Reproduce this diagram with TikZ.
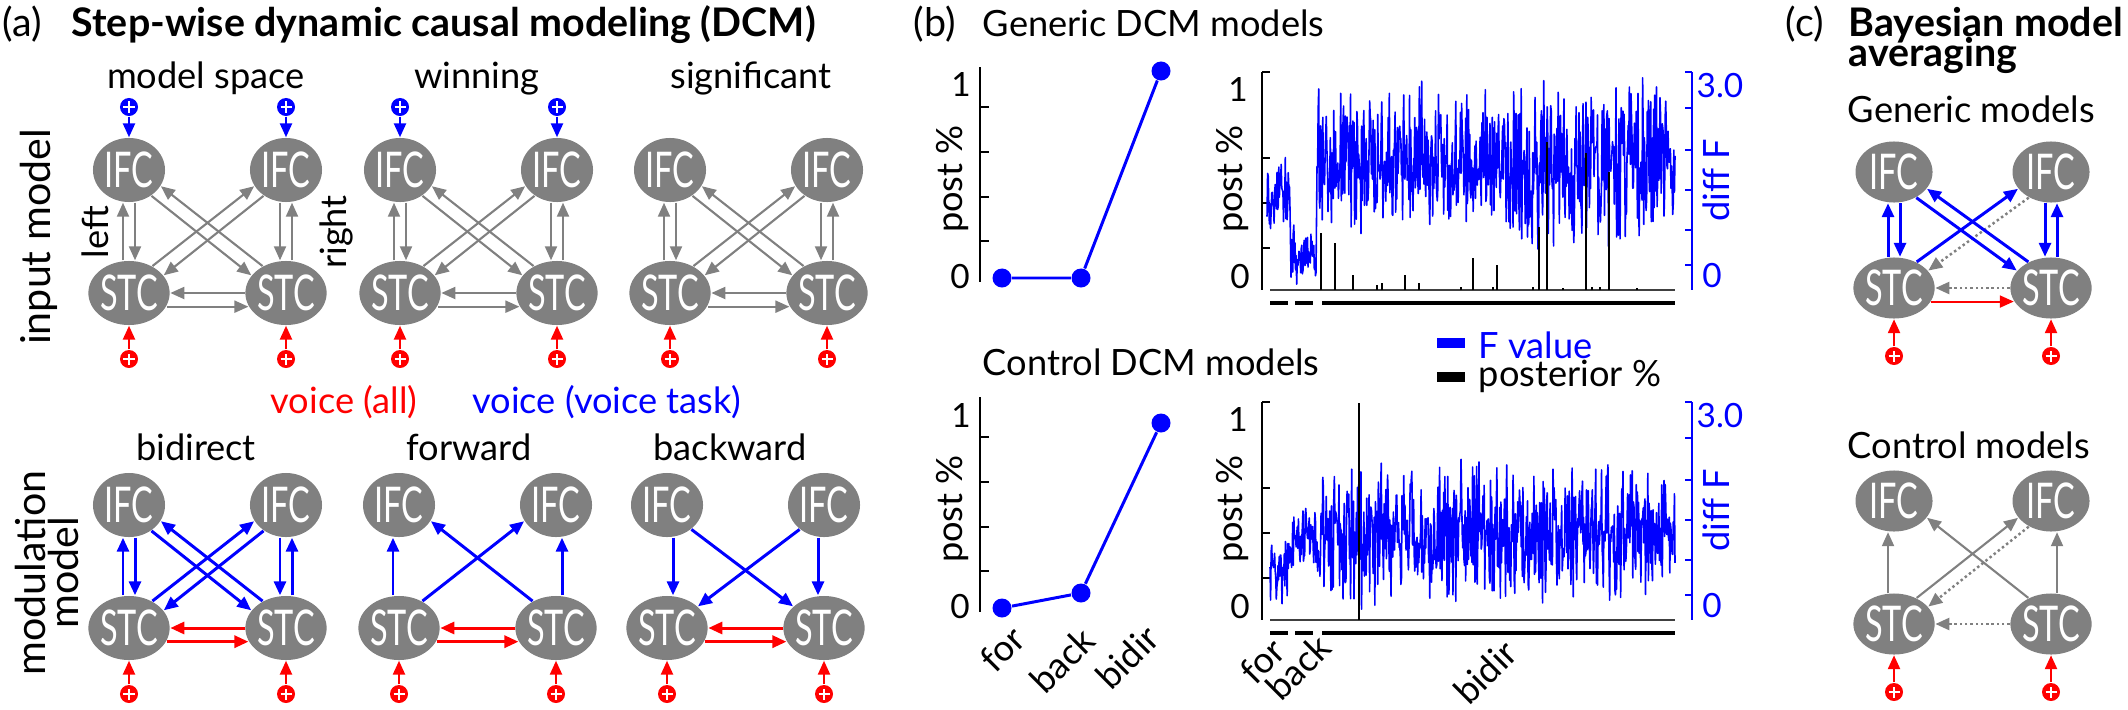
\documentclass[tikz,border=0pt]{standalone}
\usepackage{fontspec}
\setmainfont{Lato}
\usepackage{graphicx}
\usetikzlibrary{arrows.meta,shapes.geometric}
\definecolor{roigray}{RGB}{128,128,128}
\definecolor{arrgray}{RGB}{128,128,128}
\definecolor{vblue}{RGB}{0,0,255}
\definecolor{vred}{RGB}{255,0,0}
\newcommand{\roitext}[1]{\scalebox{0.66}[1]{#1}}
\tikzset{
  roi/.style={ellipse, fill=roigray, text=white, minimum width=0.72cm, minimum height=0.64cm, inner sep=0pt, font=\fontsize{14}{14}\selectfont},
  roiwide/.style={roi, minimum width=0.77cm, minimum height=0.61cm},
  lnk/.style={-{Triangle[length=0.14cm,width=0.12cm]}},
  gin/.style={lnk, draw=arrgray, line width=0.6pt},
  gdot/.style={gin, line width=0.7pt, dash pattern=on 0.7pt off 0.8pt},
  mod/.style={lnk, draw=vblue, line width=0.85pt},
  drv/.style={lnk, draw=vred, line width=0.85pt},
  plusin/.style={circle, fill=#1, minimum size=0.18cm, inner sep=0pt, path picture={\draw[white,line width=0.8pt] ([xshift=-0.055cm]path picture bounding box.center) -- ([xshift=0.055cm]path picture bounding box.center) ([yshift=-0.055cm]path picture bounding box.center) -- ([yshift=0.055cm]path picture bounding box.center);}},
  paneltag/.style={inner sep=0pt, font=\fontsize{11.2}{11.2}\selectfont},
  ttl/.style={inner sep=0pt, font=\fontsize{11.2}{11.2}\selectfont\bfseries},
  lbl/.style={inner sep=0pt, font=\fontsize{10.3}{10.3}\selectfont},
  rowlbl/.style={inner sep=0pt, align=center, font=\fontsize{11.7}{9.4}\selectfont},
  ticklbl/.style={inner sep=0pt, font=\fontsize{9.5}{9.5}\selectfont},
  axisline/.style={line width=0.7pt},
  baxis/.style={draw=vblue, line width=0.8pt},
  ftrace/.style={draw=vblue, line width=0.45pt, line join=round},
  spike/.style={line width=0.5pt},
  catbar/.style={line width=1pt},
  datum/.style={circle, fill=vblue, minimum size=0.19cm, inner sep=0pt},
}
\begin{document}
\begin{tikzpicture}[x=0.01cm, y=-0.01cm]
\useasboundingbox (0,0) rectangle (2128,709);

\node[paneltag, anchor=base west] (taga) at (2,37) {(a)};
\node[ttl, anchor=base west] (titlea) at (71,37) {Step-wise dynamic causal modeling (DCM)};
\node[lbl, anchor=base] (sub1) at (206,88) {model space};
\node[lbl, anchor=base] (sub2) at (477,88) {winning};
\node[lbl, anchor=base] (sub3) at (751,88) {significant};
\node[lbl, anchor=base, text=vred] (vall) at (344,413) {voice (all)};
\node[lbl, anchor=base, text=vblue] (vtask) at (607,413) {voice (voice task)};
\node[lbl, anchor=base] (sub4) at (196,460) {bidirect};
\node[lbl, anchor=base] (sub5) at (469,460) {forward};
\node[lbl, anchor=base] (sub6) at (730,460) {backward};
\node[rowlbl, rotate=90] (rowin) at (39,237) {input model};
\node[rowlbl, rotate=90] (rowmod) at (47,573) {modulation\\model};
\node[lbl, rotate=90] (hleft) at (95,232) {left};
\node[lbl, rotate=90] (hright) at (336,232) {right};

\foreach \n/\x/\y in {in1/129/170, in2/400/170, in3/670/170, md1/129/505, md2/399/505, md3/667/505}{
  \node[roi] (\n-il) at (\x,\y) {\roitext{IFC}};
  \node[roi] (\n-ir) at (\x+157,\y) {\roitext{IFC}};
  \node[roi] (\n-sl) at (\x,\y+123) {\roitext{STC}};
  \node[roi] (\n-sr) at (\x+157,\y+123) {\roitext{STC}};
  \node[plusin=vred] (\n-pl) at (\x,\y+189) {};
  \node[plusin=vred] (\n-pr) at (\x+157,\y+189) {};
  \draw[drv, line width=0.7pt] (\n-pl) -- (\n-sl);
  \draw[drv, line width=0.7pt] (\n-pr) -- (\n-sr);
}
\foreach \n/\x in {in1/129, in2/400}{
  \node[plusin=vblue] (\n-ul) at (\x,107) {};
  \node[plusin=vblue] (\n-ur) at (\x+157,107) {};
  \draw[mod, line width=0.7pt] (\n-ul) -- (\n-il);
  \draw[mod, line width=0.7pt] (\n-ur) -- (\n-ir);
}

\foreach \n/\c/\w in {in1/arrgray/0.6pt, in2/arrgray/0.6pt, in3/arrgray/0.6pt, md1/vblue/0.85pt}{
  \draw[lnk, draw=\c, line width=\w] ([xshift=-0.06cm]\n-sl.north) -- ([xshift=-0.06cm]\n-il.south);
  \draw[lnk, draw=\c, line width=\w] ([xshift=0.06cm]\n-il.south) -- ([xshift=0.06cm]\n-sl.north);
  \draw[lnk, draw=\c, line width=\w] ([xshift=-0.06cm]\n-ir.south) -- ([xshift=-0.06cm]\n-sr.north);
  \draw[lnk, draw=\c, line width=\w] ([xshift=0.06cm]\n-sr.north) -- ([xshift=0.06cm]\n-ir.south);
  \draw[lnk, draw=\c, line width=\w] (\n-sr.131) -- (\n-il.-27);
  \draw[lnk, draw=\c, line width=\w] (\n-il.-49) -- (\n-sr.153);
  \draw[lnk, draw=\c, line width=\w] (\n-sl.49) -- (\n-ir.207);
  \draw[lnk, draw=\c, line width=\w] (\n-ir.229) -- (\n-sl.27);
}
\foreach \n in {in1,in2,in3}{
  \draw[gin] (\n-sr.180) -- (\n-sl.0);
  \draw[gin] (\n-sl.-20) -- (\n-sr.200);
}
\foreach \n in {md1,md2,md3}{
  \draw[drv] (\n-sr.180) -- (\n-sl.0);
  \draw[drv] (\n-sl.-20) -- (\n-sr.200);
}
\draw[mod] ([xshift=-0.06cm]md2-sl.north) -- ([xshift=-0.06cm]md2-il.south);
\draw[mod] ([xshift=0.06cm]md2-sr.north) -- ([xshift=0.06cm]md2-ir.south);
\draw[mod] (md2-sr.131) -- (md2-il.-27);
\draw[mod] (md2-sl.49) -- (md2-ir.207);
\draw[mod] ([xshift=0.06cm]md3-il.south) -- ([xshift=0.06cm]md3-sl.north);
\draw[mod] ([xshift=-0.06cm]md3-ir.south) -- ([xshift=-0.06cm]md3-sr.north);
\draw[mod] (md3-il.-45) -- (md3-sr.145);
\draw[mod] (md3-ir.225) -- (md3-sl.35);

\node[paneltag, anchor=base west] (tagb) at (913,36) {(b)};
\node[lbl, anchor=base west] (gdcm) at (982,37) {Generic DCM models};
\node[lbl, anchor=base west] (cdcm) at (982,375) {Control DCM models};
\foreach \yo in {0,330}{
  \draw[axisline] (980,67+\yo) -- (980,282+\yo);
  \foreach \t in {107,152,197,241} \draw[axisline] (980,\t+\yo) -- (989,\t+\yo);
  \draw[axisline] (1262,72+\yo) -- (1262,290+\yo);
  \foreach \t in {72,158,203,248} \draw[axisline] (1262,\t+\yo) -- (1270,\t+\yo);
  \draw[baxis] (1692,72+\yo) -- (1692,290+\yo);
  \foreach \t in {72,108,150,190,230,265} \draw[baxis] (1692,\t+\yo) -- (1685,\t+\yo);
  \draw[draw=darkgray, line width=0.4pt] (1270,290+\yo) -- (1675,290+\yo);
  \foreach \a/\b in {1270/1288,1295/1313,1322/1675} \draw[catbar] (\a,303+\yo) -- (\b,303+\yo);
  \node[ticklbl] (lone\yo) at (961,85+\yo) {1};
  \node[ticklbl] (lzero\yo) at (960,277+\yo) {0};
  \node[lbl, rotate=90] (lpost\yo) at (952,179+\yo) {post \%};
  \node[ticklbl] (rone\yo) at (1238,90+\yo) {1};
  \node[ticklbl] (rzero\yo) at (1240,277+\yo) {0};
  \node[lbl, rotate=90] (rpost\yo) at (1232,179+\yo) {post \%};
  \node[ticklbl, text=vblue] (fmax\yo) at (1720,86+\yo) {3.0};
  \node[ticklbl, text=vblue] (fzero\yo) at (1712,276+\yo) {0};
  \node[lbl, rotate=90, text=vblue] (fdiff\yo) at (1716,180+\yo) {diff F};
}
\node[datum] (g1) at (1002,278) {};
\node[datum] (g2) at (1081,278) {};
\node[datum] (g3) at (1161,71) {};
\draw[vblue, line width=0.85pt] (g1) -- (g2) -- (g3);
\node[datum] (c1) at (1002,608) {};
\node[datum] (c2) at (1081,593) {};
\node[datum] (c3) at (1161,423) {};
\draw[vblue, line width=0.85pt] (c1) -- (c2) -- (c3);

\pgfmathsetseed{3}
\draw[ftrace] plot[domain=1267:1290, samples=40] (\x,{190+45*(rnd+rnd-1)}) -- plot[domain=1291:1316, samples=45] (\x,{255+35*(rnd+rnd-1)}) -- plot[domain=1317:1675, samples=620] (\x,{163+88*(rnd+rnd-1)});
\draw[ftrace] plot[domain=1270:1290, samples=36] (\x,{565+45*(rnd+rnd-1)}) -- plot[domain=1291:1316, samples=45] (\x,{540+35*(rnd+rnd-1)}) -- plot[domain=1317:1675, samples=620] (\x,{535+78*(rnd+rnd-1)});
\foreach \sx/\sy in {1321/233,1335/243,1353/275,1377/285,1382/283,1405/275,1419/283,1461/287,1473/258,1493/287,1497/265,1533/287,1539/227,1547/142,1563/288,1586/153,1592/287,1600/287,1609/172,1637/288}
  \draw[spike] (\sx,290) -- (\sx,\sy);
\draw[spike] (1359,620) -- (1359,403);

\draw[vblue, line width=0.1cm] (1437,343) -- (1465,343);
\draw[line width=0.1cm] (1437,377) -- (1465,377);
\node[lbl, anchor=base west, text=vblue] (lgf) at (1478,358) {F value};
\node[lbl, anchor=base west] (lgp) at (1478,386) {posterior \%};

\node[lbl, rotate=45] (cfor) at (1002,649) {for};
\node[lbl, rotate=45] (cback) at (1062,660) {back};
\node[lbl, rotate=45] (cbidir) at (1127,657) {bidir};
\node[lbl, rotate=45] (rfor) at (1262,661) {for};
\node[lbl, rotate=45] (rback) at (1298,667) {back};
\node[lbl, rotate=45] (rbidir) at (1485,672) {bidir};

\node[paneltag, anchor=base west] (tagc) at (1785,37) {(c)};
\node[ttl, anchor=base west] (bma1) at (1848,37) {Bayesian model};
\node[ttl, anchor=base west] (bma2) at (1848,66) {averaging};
\node[lbl, anchor=base west] (gmod) at (1847,122) {Generic models};
\node[lbl, anchor=base west] (cmod) at (1847,458) {Control models};
\foreach \n/\y/\z in {bg/172/288, bc/501/624}{
  \node[roiwide] (\n-il) at (1894,\y) {\roitext{IFC}};
  \node[roiwide] (\n-ir) at (2051,\y) {\roitext{IFC}};
  \node[roiwide] (\n-sl) at (1894,\z) {\roitext{STC}};
  \node[roiwide] (\n-sr) at (2051,\z) {\roitext{STC}};
  \node[plusin=vred] (\n-pl) at (1894,\z+68) {};
  \node[plusin=vred] (\n-pr) at (2051,\z+68) {};
  \draw[drv, line width=0.7pt] (\n-pl) -- (\n-sl);
  \draw[drv, line width=0.7pt] (\n-pr) -- (\n-sr);
  \draw[gdot] (\n-ir.229) -- (\n-sl.27);
  \draw[gdot] (\n-sr.180) -- (\n-sl.0);
}
\draw[mod] ([xshift=-0.06cm]bg-sl.north) -- ([xshift=-0.06cm]bg-il.south);
\draw[mod] ([xshift=0.06cm]bg-il.south) -- ([xshift=0.06cm]bg-sl.north);
\draw[mod] ([xshift=-0.06cm]bg-ir.south) -- ([xshift=-0.06cm]bg-sr.north);
\draw[mod] ([xshift=0.06cm]bg-sr.north) -- ([xshift=0.06cm]bg-ir.south);
\draw[mod] (bg-sr.131) -- (bg-il.-27);
\draw[mod] (bg-il.-49) -- (bg-sr.153);
\draw[mod] (bg-sl.49) -- (bg-ir.207);
\draw[drv, line width=0.6pt] (bg-sl.-20) -- (bg-sr.200);
\draw[gin] ([xshift=-0.06cm]bc-sl.north) -- ([xshift=-0.06cm]bc-il.south);
\draw[gin] ([xshift=0.06cm]bc-sr.north) -- ([xshift=0.06cm]bc-ir.south);
\draw[gin] (bc-sr.131) -- (bc-il.-27);
\draw[gin] (bc-sl.49) -- (bc-ir.207);
\end{tikzpicture}
\end{document}
